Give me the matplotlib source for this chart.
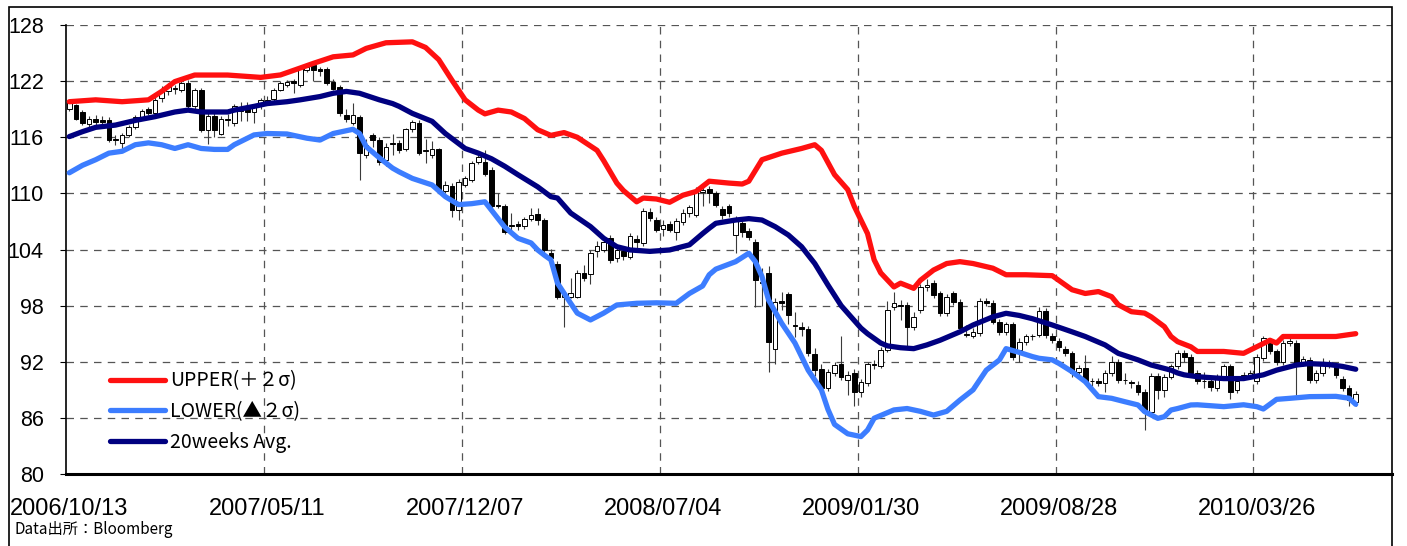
import matplotlib
matplotlib.use("Agg")
import matplotlib.pyplot as plt
import numpy as np
from matplotlib.patches import Rectangle

# ---------------- data (weekly candles) ----------------
opens = [
 119.0,119.45,118.7,117.4,118.0,117.8,117.85,115.8,115.35,116.2,
 117.1,118.0,119.0,118.6,120.2,120.9,121.2,121.1,121.8,119.3,
 121.0,116.8,118.3,116.4,118.0,117.5,118.9,119.1,118.7,119.3,
 119.8,120.1,121.1,121.6,122.0,121.6,123.2,123.7,123.25,123.25,
 121.95,121.4,118.4,117.5,118.2,114.1,116.2,115.7,113.6,115.4,
 115.35,114.7,116.85,117.5,114.5,114.1,114.7,110.3,110.8,108.2,
 110.9,111.4,113.4,113.4,112.5,108.8,108.6,106.6,106.7,106.5,
 107.3,107.8,107.2,103.6,102.5,98.9,98.96,98.96,101.45,101.4,
 103.85,103.95,105.2,103.05,103.8,103.25,105.1,104.7,108.05,107.2,
 106.2,106.7,105.9,106.9,107.9,107.7,110.1,110.5,110.0,108.3,
 108.6,105.55,106.8,106.0,104.8,100.5,101.45,93.4,98.5,99.2,
 95.9,95.75,95.5,92.8,91.2,89.2,90.8,91.8,90.05,90.8,
 88.8,89.7,91.8,91.55,93.3,97.9,98.1,98.1,95.75,97.5,
 100.03,100.4,99.3,97.2,99.3,98.4,94.9,94.8,95.1,98.5,
 98.25,96.3,95.2,96.0,93.3,94.15,94.7,94.86,97.46,94.75,
 94.25,93.4,92.9,90.9,91.3,89.9,89.98,89.7,90.8,92.0,
 90.0,89.8,89.5,88.8,86.67,90.5,89.0,90.4,91.5,92.9,
 92.5,90.8,89.9,89.9,89.2,90.4,91.5,89.0,90.4,90.6,
 89.9,92.4,94.0,93.1,92.0,94.0,94.0,91.8,92.2,90.05,
 90.8,91.9,91.65,90.2,89.2,87.7]
highs = [
 120.0,119.6,118.9,118.3,118.4,118.3,118.2,116.2,116.5,117.3,
 118.4,119.0,119.2,120.4,121.5,121.8,121.6,122.0,122.1,121.3,
 121.3,118.6,118.6,118.3,118.5,119.6,119.8,119.8,119.6,120.2,
 120.4,121.3,122.0,122.1,122.2,123.6,123.8,123.9,123.5,123.5,
 122.2,121.6,119.0,119.7,118.4,115.8,116.5,116.0,115.4,116.4,
 115.7,117.0,117.8,117.8,115.8,115.6,114.9,111.3,111.1,111.5,
 111.9,113.5,114.2,114.6,112.8,110.0,108.9,107.9,107.1,107.5,
 108.4,108.4,107.4,104.1,102.8,99.7,101.0,101.8,102.3,103.9,
 104.9,105.3,105.5,104.3,104.3,105.8,105.5,108.4,108.4,107.5,
 107.2,107.0,107.4,108.3,108.8,110.7,110.8,110.8,110.3,108.6,
 108.9,107.6,107.1,106.3,105.1,102.0,102.2,98.8,99.5,99.5,
 97.3,96.2,95.8,93.5,91.8,91.2,92.0,94.7,91.0,91.2,
 90.2,92.0,92.2,93.6,98.5,99.5,98.6,98.4,97.3,100.3,
 100.8,100.7,99.6,99.2,99.6,98.7,95.9,95.6,98.8,98.8,
 98.6,96.6,96.3,96.3,94.5,95.0,95.0,97.8,97.7,95.1,
 94.5,93.7,93.2,91.6,92.7,90.3,90.3,91.1,92.6,92.3,
 90.8,90.1,89.9,89.1,90.8,90.8,90.7,91.8,93.3,93.3,
 92.8,91.1,90.9,90.2,90.7,91.8,91.8,90.2,90.9,91.1,
 92.8,94.8,94.4,93.4,94.3,94.5,94.3,92.6,92.5,91.1,
 92.4,92.2,91.9,90.5,89.5,88.9]
lows = [
 118.8,117.8,117.3,117.1,117.3,117.3,115.5,115.2,114.6,116.0,
 116.9,117.8,118.4,118.4,119.8,120.5,120.6,120.8,119.1,119.0,
 116.6,115.3,116.0,116.2,117.2,117.2,117.7,117.7,117.5,119.0,
 119.6,119.9,120.9,121.4,120.7,121.4,123.0,122.0,122.5,121.6,
 121.0,118.3,117.6,117.3,111.4,113.8,115.0,113.0,112.9,114.1,
 114.3,114.5,116.6,114.1,113.2,113.8,110.2,110.0,107.5,107.2,
 110.7,111.2,113.1,111.9,108.4,108.4,105.7,105.7,106.1,106.2,
 107.0,106.6,103.6,102.9,98.7,95.75,98.8,98.8,100.6,100.3,
 103.2,103.7,102.6,102.7,102.9,103.0,103.8,104.4,107.0,105.9,
 105.4,105.9,105.0,106.6,107.5,107.5,108.6,109.0,108.5,107.3,
 107.5,103.6,105.3,105.0,97.9,98.0,90.9,91.8,97.5,96.0,
 94.6,94.8,92.6,90.5,89.0,88.9,90.5,90.1,88.4,87.3,
 88.2,89.4,91.2,91.3,93.0,97.5,96.5,93.6,95.4,97.2,
 99.6,98.8,96.9,96.9,98.1,95.2,94.6,94.5,94.8,98.0,
 96.0,94.9,94.9,92.2,92.0,93.8,94.3,94.6,94.5,94.0,
 93.2,92.6,90.4,90.6,89.6,89.4,89.4,88.8,90.5,89.7,
 89.6,89.2,88.4,84.7,86.4,88.0,88.2,90.2,91.2,92.0,
 90.5,89.6,89.2,88.9,88.9,90.1,88.0,88.7,90.1,90.3,
 89.6,92.1,92.8,91.7,91.7,93.7,88.4,91.5,89.7,89.7,
 90.5,91.3,90.3,88.9,87.3,87.3]
closes = [
 119.8,118.0,117.5,117.9,117.6,117.6,115.7,115.7,116.2,117.1,
 118.2,118.8,118.6,120.0,121.0,121.4,121.3,121.8,119.3,121.0,
 116.8,118.3,116.8,118.0,117.8,119.3,118.8,118.7,119.45,120.0,
 120.0,121.1,121.8,121.95,121.8,123.4,123.55,123.2,123.1,121.8,
 121.2,118.6,118.0,118.4,114.3,115.2,115.7,113.4,115.0,115.3,
 114.6,116.85,117.6,114.35,114.6,114.7,110.5,110.9,108.2,111.25,
 111.6,113.2,113.85,112.1,108.65,108.7,105.9,106.5,106.5,107.3,
 107.7,107.2,103.95,103.1,98.96,99.3,99.3,101.45,100.9,103.6,
 104.4,104.85,102.9,103.95,103.3,105.45,104.85,108.1,107.35,106.1,
 106.6,106.1,107.0,107.9,108.5,110.4,110.4,110.0,108.8,107.7,
 107.9,107.3,105.9,105.3,100.7,100.4,94.15,98.4,98.25,97.0,
 95.8,95.5,92.9,91.1,89.2,90.9,91.65,90.4,90.6,88.8,
 89.85,91.8,91.6,93.26,97.5,98.25,98.0,95.75,96.8,100.03,
 100.2,99.1,97.2,98.9,98.4,95.6,95.0,95.2,98.5,98.3,
 96.3,95.2,96.0,92.55,94.15,94.7,94.8,97.46,94.86,94.3,
 93.55,92.9,90.76,91.3,89.9,89.95,89.7,90.8,92.0,90.05,
 90.05,89.7,88.8,86.67,90.5,89.0,90.4,91.5,92.9,92.5,
 90.8,89.9,89.95,89.3,90.4,91.5,88.8,89.9,90.6,90.8,
 92.5,94.5,93.1,92.0,94.0,94.2,91.8,92.3,90.05,90.8,
 91.65,91.65,90.6,89.2,87.9,88.6]

# Bollinger bands (week index, value)
upper_wk = [0,4,8,12,14,16,19,24,29,32,35,37,40,43,45,48,52,54,56,58,60,62,63,65,67,69,71,73,75,77,
            80,81,83,84,86,87,89,91,93,95,97,100,102,103,105,108,111,113,114,116,118,119,121,122,123,
            125,126,128,129,131,133,135,137,140,142,145,149,150,152,154,156,158,159,161,163,164,166,
            167,168,170,171,175,178,180,182,183,184,188,192,195]
upper_val = [119.8,120.0,119.8,120.0,120.9,121.95,122.65,122.65,122.4,122.66,123.4,123.9,124.6,124.8,125.5,
             126.1,126.2,125.6,124.3,122.1,120.0,118.9,118.5,118.9,118.7,118.0,116.8,116.2,116.5,116.0,
             114.6,113.5,111.1,110.3,109.1,109.5,109.4,109.05,109.8,110.2,111.3,111.1,111.0,111.3,113.6,
             114.3,114.8,115.2,114.6,112.0,110.4,108.6,105.7,102.9,101.5,100.0,100.4,99.85,100.7,101.8,
             102.5,102.7,102.5,102.0,101.3,101.3,101.2,100.7,99.7,99.3,99.5,98.96,98.1,97.35,97.2,96.8,
             95.75,94.7,94.15,93.6,93.1,93.1,92.9,93.6,94.3,94.0,94.7,94.7,94.7,95.0]
lower_wk = [0,2,4,6,8,10,12,14,16,18,20,22,24,25,28,30,33,36,38,40,43,44,45,47,49,50,52,55,57,59,
            61,63,64,66,68,70,71,72,73,74,76,77,79,81,83,86,89,92,94,96,97,98,101,103,104,105,106,108,
            110,112,114,115,116,118,120,121,122,125,127,129,131,133,135,137,139,141,142,144,146,147,149,
            150,152,154,156,158,160,162,163,165,166,167,168,170,171,175,178,180,181,183,185,188,192,194,195]
lower_val = [112.2,113.0,113.6,114.3,114.5,115.2,115.4,115.2,114.8,115.2,114.8,114.7,114.7,115.2,116.25,
             116.4,116.35,115.9,115.7,116.4,116.85,116.4,115.0,113.8,112.7,112.3,111.6,110.9,109.65,108.8,
             108.9,109.1,108.2,106.4,105.2,104.7,103.95,103.4,102.9,100.4,98.25,97.2,96.47,97.2,98.07,
             98.25,98.3,98.25,99.3,100.1,101.3,101.9,102.7,103.6,102.7,101.1,98.6,96.1,94.0,91.1,89.0,
             86.9,85.3,84.3,84.0,84.7,85.96,86.85,87.0,86.7,86.3,86.7,87.9,89.0,91.1,92.2,93.4,93.0,
             92.55,92.37,92.2,91.83,90.94,89.87,88.27,88.09,87.73,87.38,86.67,85.95,86.13,86.84,87.0,
             87.38,87.4,87.2,87.4,87.2,86.95,87.98,88.09,88.27,88.3,88.1,87.45]
avg_wk = [0,2,4,7,10,13,16,18,20,22,24,25,28,30,33,35,38,40,42,44,47,49,50,52,55,57,60,62,64,66,68,71,
          73,74,76,79,81,83,85,88,91,94,96,97,98,101,103,105,107,109,111,113,115,117,119,120,121,122,123,
          124,126,128,130,132,135,137,140,142,144,146,149,152,154,157,159,162,164,167,168,169,171,175,178,
          181,183,186,188,191,193,195]
avg_val = [116.07,116.6,117.06,117.3,117.8,118.2,118.7,118.9,118.7,118.7,118.7,118.9,119.3,119.6,119.8,
           120.0,120.35,120.7,120.9,120.7,120.0,119.6,119.3,118.55,117.7,116.4,114.8,114.3,113.7,112.9,
           112.0,110.7,109.65,109.5,107.9,106.45,105.2,104.3,103.95,103.8,103.95,104.5,105.7,106.27,106.8,
           107.15,107.3,107.15,106.44,105.55,104.3,102.5,100.2,98.0,96.4,95.6,95.0,94.5,94.0,
           93.7,93.5,93.4,93.8,94.3,95.2,95.93,96.8,97.18,96.95,96.6,95.93,95.2,94.7,93.8,92.9,92.2,
           91.65,91.1,90.8,90.6,90.4,90.2,90.2,90.6,91.1,91.65,91.8,91.7,91.5,91.2]

tick_weeks = [0, 30, 60, 90, 120, 150, 180]
tick_labels = ["2006/10/13", "2007/05/11", "2007/12/07", "2008/07/04",
               "2009/01/30", "2009/08/28", "2010/03/26"]
yticks = [80, 86, 92, 98, 104, 110, 116, 122, 128]
legend_labels = ["UPPER(＋２σ)", "LOWER(▲２σ)", "20weeks Avg."]
source_text = "Data出所：Bloomberg"

# ---------------- figure ----------------
W, H = 1407, 546
fig = plt.figure(figsize=(W / 100, H / 100), dpi=100)
ax = fig.add_axes([66 / W, 1 - 474 / H, (1392 - 66) / W, (474 - 25) / H])

o = np.array(opens); c = np.array(closes)
hi = np.array(highs); lo = np.array(lows)
x = np.arange(len(o))

# wicks
ax.vlines(x, lo, hi, color="#3a3a3a", linewidth=0.8, zorder=2)
# bodies
bottom = np.minimum(o, c)
height = np.maximum(np.abs(c - o), 0.06)
face = np.where(c >= o, "white", "black")
ax.bar(x, height, bottom=bottom, width=0.7, color=face, edgecolor="black",
       linewidth=0.7, zorder=3)

# bands
kw = dict(lw=3.8, zorder=4, solid_capstyle="round", solid_joinstyle="round")
l1, = ax.plot(upper_wk, upper_val, color="#FF1010", **kw)
l2, = ax.plot(lower_wk, lower_val, color="#3C7DFF", **kw)
l3, = ax.plot(avg_wk, avg_val, color="#000080", **kw)

ax.set_xlim(-0.5, 200.5)
ax.set_ylim(80, 128)

# grid
for yv in yticks[1:]:
    ax.axhline(yv, color="#555555", lw=0.9, ls=(0, (6, 5)), zorder=1)
for wk in tick_weeks[1:]:
    ax.axvline(wk - 0.5, color="#555555", lw=0.9, ls=(0, (6, 5)), zorder=1)

ax.set_yticks(yticks)
ax.set_yticklabels([str(v) for v in yticks], fontsize=15.5, family="Liberation Sans")
ax.set_xticks(tick_weeks)
ax.set_xticklabels(tick_labels, fontsize=17, family="Liberation Sans")
ax.tick_params(axis="y", direction="out", length=4, pad=12, width=0.8)
ax.tick_params(axis="x", direction="in", length=0, pad=17)

ax.spines["top"].set_visible(False)
ax.spines["left"].set_linewidth(1.2)
ax.spines["right"].set_visible(False)
ax.spines["bottom"].set_linewidth(2.2)

leg = ax.legend([l1, l2, l3], legend_labels, loc="lower left",
                bbox_to_anchor=(0.027, 0.03), frameon=False,
                prop={"family": ["Noto Sans CJK JP"], "size": 14},
                handlelength=2.85, handletextpad=0.25, labelspacing=0.5,
                borderaxespad=0)

fig.text(14 / W, 1 - 530 / H, source_text, fontsize=11,
         family=["Noto Sans CJK JP"], va="center", ha="left")

fig.add_artist(Rectangle((9 / W, -0.01), (1392 - 9) / W, 1 - 7 / H + 0.01,
                         transform=fig.transFigure, fill=False,
                         edgecolor="black", lw=1.2))

fig.savefig("out.png", dpi=100)
